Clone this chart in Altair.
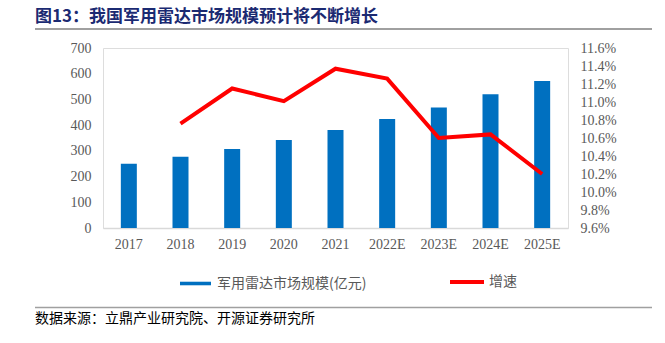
import altair as alt
import pandas as pd

years = ["2017", "2018", "2019", "2020", "2021", "2022E", "2023E", "2024E", "2025E"]
market = [250, 277, 307, 342, 381, 424, 469, 520, 572]
growth = [None, 10.76, 11.15, 11.01, 11.37, 11.26, 10.60, 10.64, 10.20]

bar_name = "军用雷达市场规模(亿元)"
line_name = "增速"
title_text = "图13：我国军用雷达市场规模预计将不断增长"
source_text = "数据来源：立鼎产业研究院、开源证券研究所"

df = pd.DataFrame({"year": years, "market": market, "growth": growth})
df["s1"] = bar_name
df["s2"] = line_name

serif = "Liberation Serif"
cjk = "Noto Sans CJK SC"
gray = "#595959"

x_enc = alt.X("year:N", sort=years, title=None,
              scale=alt.Scale(paddingInner=0, paddingOuter=0),
              axis=alt.Axis(labelAngle=0, ticks=False, domainColor="#d9d9d9", domainWidth=1.5,
                            labelFont=serif, labelFontSize=14, labelColor=gray, labelPadding=9))

bars = alt.Chart(df).mark_bar(size=16).encode(
    x=x_enc,
    y=alt.Y("market:Q", title=None, scale=alt.Scale(domain=[0, 700], nice=False),
            axis=alt.Axis(values=list(range(0, 701, 100)), domain=False, ticks=False, grid=False,
                          labelFont=serif, labelFontSize=14, labelColor=gray, labelPadding=12)),
    color=alt.Color("s1:N", scale=alt.Scale(domain=[bar_name], range=["#0070C0"]),
                    legend=alt.Legend(title=None, orient="none", legendX=76, legendY=219, padding=0,
                                      symbolType="M-1,-0.115L1,-0.115L1,0.115L-1,0.115Z",
                                      symbolSize=961, symbolOpacity=1, labelOffset=5,
                                      labelFont=cjk, labelFontSize=14, labelColor=gray)),
)

line = alt.Chart(df).transform_filter("datum.growth != null").mark_line(strokeWidth=4).encode(
    x=alt.X("year:N", sort=years),
    y=alt.Y("growth:Q", title=None, scale=alt.Scale(domain=[9.6, 11.6], nice=False, zero=False),
            axis=alt.Axis(orient="right", values=[9.6 + 0.2 * i for i in range(11)],
                          labelExpr="format(datum.value, '.1f') + '%'",
                          domain=False, ticks=False, grid=False, labelAlign="left",
                          labelFont=serif, labelFontSize=14, labelColor=gray, labelPadding=12)),
    stroke=alt.Stroke("s2:N", scale=alt.Scale(domain=[line_name], range=["#FF0000"]),
                      legend=alt.Legend(title=None, orient="none", legendX=345, legendY=215, padding=0,
                                        symbolType="stroke", symbolSize=1156, symbolStrokeWidth=4,
                                        labelOffset=3, labelFont=cjk, labelFontSize=14, labelColor=gray)),
)

tdf = pd.DataFrame({"t": [title_text]})
title = alt.Chart(tdf).mark_text(align="left", baseline="middle", font=cjk, fontSize=17,
                                  fontWeight="bold", color="#1B2A72").encode(
    text="t:N", x=alt.value(-68), y=alt.value(-31))

sdf = pd.DataFrame({"t": [source_text]})
source = alt.Chart(sdf).mark_text(align="left", baseline="middle", font=cjk, fontSize=14,
                                   color="#000000").encode(
    text="t:N", x=alt.value(-68), y=alt.value(271))

rule_top = alt.Chart(tdf).mark_rule(color="#808080", strokeWidth=1.5).encode(
    x=alt.value(-68), x2=alt.value(549), y=alt.value(-19))
rule_bot = alt.Chart(sdf).mark_rule(color="#a0a0a0", strokeWidth=1.5).encode(
    x=alt.value(-68), x2=alt.value(549), y=alt.value(259.5))

chart = alt.layer(bars, line, title, source, rule_top, rule_bot).resolve_scale(
    y="independent"
).properties(
    width=465, height=180,
    autosize=alt.AutoSizeParams(type="none"),
    padding={"left": 103, "top": 48, "right": 97, "bottom": 115},
).configure_view(stroke=None).configure(background="white")

chart.save("out.html", embed_options={"renderer": "svg", "actions": False})
